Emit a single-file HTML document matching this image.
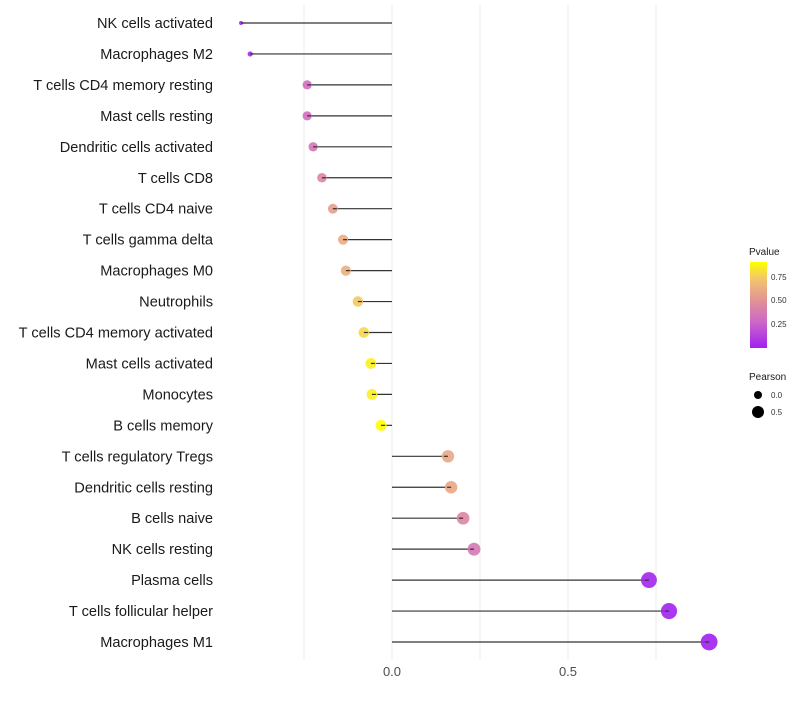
<!DOCTYPE html>
<html><head><meta charset="utf-8"><style>
body{margin:0;background:#fff;font-family:"Liberation Sans",sans-serif}
</style></head><body>
<svg id="c" width="800" height="700" xmlns="http://www.w3.org/2000/svg" font-family="Liberation Sans, sans-serif"></svg>
<script>
const categories=["NK cells activated","Macrophages M2","T cells CD4 memory resting","Mast cells resting","Dendritic cells activated","T cells CD8","T cells CD4 naive","T cells gamma delta","Macrophages M0","Neutrophils","T cells CD4 memory activated","Mast cells activated","Monocytes","B cells memory","T cells regulatory  Tregs ","Dendritic cells resting","B cells naive","NK cells resting","Plasma cells","T cells follicular helper","Macrophages M1"];
const pearson=[-0.429,-0.403,-0.241,-0.241,-0.224,-0.199,-0.168,-0.139,-0.131,-0.097,-0.080,-0.060,-0.057,-0.031,0.159,0.168,0.202,0.233,0.730,0.787,0.901];
const pvalues=[0.02,0.05,0.33,0.33,0.36,0.45,0.58,0.65,0.66,0.78,0.82,0.9,0.9,0.97,0.62,0.62,0.45,0.38,0.02,0.01,0.001];
const xTicks=[0,0.5];
const xTickLabels=["0.0","0.5"];
const grid=[-0.25,0.25,0.75];
const NS="http://www.w3.org/2000/svg";
const svg=document.getElementById('c');
const X=v=>392+v*352;
const Y=i=>23+i*30.95;
const stops=[[0,[160,32,240]],[0.3,[204,102,200]],[0.55,[226,146,150]],[0.8,[242,196,110]],[1,[255,255,0]]];
function col(p){const t=Math.min(1,Math.max(0,p/0.95));for(let k=1;k<stops.length;k++){if(t<=stops[k][0]){const a=stops[k-1],b=stops[k];const f=(t-a[0])/(b[0]-a[0]);const c=a[1].map((v,j)=>Math.round(v+(b[1][j]-v)*f));return `rgb(${c})`;}}return 'rgb(255,255,0)';}
const R=p=>1.2*Math.sqrt(Math.max(2,22+30*p-Math.max(0,-0.3-p)*50));
function el(t,a,txt){const e=document.createElementNS(NS,t);for(const k in a)e.setAttribute(k,a[k]);if(txt!==undefined)e.textContent=txt;svg.appendChild(e);return e;}
grid.concat(xTicks).forEach(v=>{const g=el('line',{x1:X(v),x2:X(v),y1:5,y2:660,stroke:'#ebebeb','stroke-width':1});

});
xTicks.forEach((v,i)=>{const t=el('text',{x:X(v),y:676,'text-anchor':'middle','font-size':13,fill:'#4d4d4d'},xTickLabels[i]);

});
categories.forEach((c,i)=>{
const t=el('text',{x:213,y:Y(i)+5,'text-anchor':'end','font-size':14.6,fill:'#1a1a1a'},c);


const l=el('line',{x1:X(0),x2:X(pearson[i]),y1:Y(i),y2:Y(i),stroke:'#333','stroke-width':1.2});


const d=el('circle',{cx:X(pearson[i]),cy:Y(i),r:R(pearson[i]),fill:col(pvalues[i]),'fill-opacity':0.9});


const l2=el('line',{x1:X(pearson[i]),x2:X(pearson[i])+(pearson[i]<0?4:-4),y1:Y(i),y2:Y(i),stroke:'#333','stroke-width':1.2});


});
</script>
<svg style="position:absolute;left:740px;top:240px" width="60" height="190" font-family="Liberation Sans, sans-serif">
<defs><linearGradient id="g" x1="0" y1="1" x2="0" y2="0">
<stop offset="0" stop-color="#a020f0"/><stop offset="0.3" stop-color="#cc66c8"/><stop offset="0.55" stop-color="#e29296"/><stop offset="0.8" stop-color="#f2c46e"/><stop offset="1" stop-color="#ffff00"/></linearGradient></defs>
<text x="9" y="15" font-size="10" fill="#1a1a1a">Pvalue</text>
<rect x="10" y="22" width="17" height="86" fill="url(#g)"/>
<text x="31" y="40" font-size="8" fill="#333">0.75</text>
<text x="31" y="63" font-size="8" fill="#333">0.50</text>
<text x="31" y="87" font-size="8" fill="#333">0.25</text>
<text x="9" y="140" font-size="10" fill="#1a1a1a">Pearson</text>
<circle cx="18" cy="155" r="4" fill="#000"/>
<text x="31" y="158" font-size="8" fill="#333">0.0</text>
<circle cx="18" cy="172" r="6" fill="#000"/>
<text x="31" y="175" font-size="8" fill="#333">0.5</text>
</svg>
</body></html>
